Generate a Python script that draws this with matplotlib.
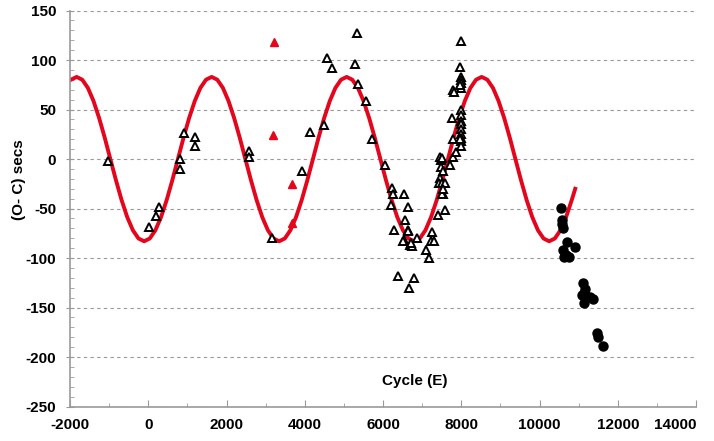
import matplotlib.pyplot as plt
from matplotlib.ticker import MultipleLocator

plt.rcParams['font.family'] = ['Liberation Sans', 'DejaVu Sans']
plt.rcParams['font.weight'] = 'bold'

# fitted curve
fit_cycle = [-1974, -1830, -1686, -1542, -1399, -1255, -1111, -968, -824, -680, -536, -392, -249,
             -105, 39, 182, 326, 470, 614, 758, 901, 1045, 1189, 1332, 1476,
             1620, 1764, 1908, 2051, 2195, 2339, 2482, 2626, 2770, 2914, 3058, 3201,
             3345, 3489, 3632, 3776, 3920, 4064, 4208, 4351, 4495, 4639, 4782, 4926,
             5070, 5214, 5358, 5501, 5645, 5789, 5932, 6076, 6220, 6364, 6508, 6651,
             6795, 6939, 7082, 7226, 7370, 7514, 7658, 7801, 7945, 8089, 8232, 8376,
             8520, 8664, 8808, 8951, 9095, 9239, 9382, 9526, 9670, 9814, 9958, 10101,
             10245, 10389, 10532, 10676, 10820, 10910]
fit_oc = [80.2, 83, 80.2, 71.9, 58.7, 41.5, 21.5, 0, -21.5, -41.5, -58.7, -71.9, -80.2,
          -83, -80.2, -71.9, -58.7, -41.5, -21.5, 0, 21.5, 41.5, 58.7, 71.9, 80.2,
          83, 80.2, 71.9, 58.7, 41.5, 21.5, 0, -21.5, -41.5, -58.7, -71.9, -80.2,
          -83, -80.2, -71.9, -58.7, -41.5, -21.5, 0, 21.5, 41.5, 58.7, 71.9, 80.2,
          83, 80.2, 71.9, 58.7, 41.5, 21.5, 0, -21.5, -41.5, -58.7, -71.9, -80.2,
          -83, -80.2, -71.9, -58.7, -41.5, -21.5, 0, 21.5, 41.5, 58.7, 71.9, 80.2,
          83, 80.2, 71.9, 58.7, 41.5, 21.5, 0, -21.5, -41.5, -58.7, -71.9, -80.2,
          -83, -80.2, -71.9, -58.7, -41.5, -30]

# open triangles
tri_cycle = [-1016, 16, 187, 281, 809, 809, 911, 1185, 1185, 2566, 2584,
             3154, 3929, 4126, 4493, 4570, 4707, 5346, 5278, 5372, 5559, 5720,
             6037, 6232, 6250, 6207, 6540, 6626, 6565, 6268, 6634, 6523, 6690, 6740, 6720,
             6856, 6378, 6795, 6651, 6641, 6505, 7094, 7171, 7240, 7230, 7290, 7400,
             7572, 7536, 7460, 7480, 7500, 7470, 7520, 7460, 7440, 7500, 7580, 7500, 7530,
             7708, 7776, 7862, 7793, 7760, 7990, 7995, 7985, 8000, 7990, 7995, 7985, 7990, 8000,
             7990, 7965, 7990, 8000, 7980, 7995, 7970, 7776, 7818, 7963]
tri_oc = [-2, -69, -57, -48, 0, -10, 26, 22, 13, 8, 2,
          -80, -12, 27, 34, 102, 92, 127, 96, 76, 59, 20,
          -6, -29, -35, -46, -35, -48, -62, -72, -72, -82, -87, -88, -85,
          -80, -118, -120, -130, -73, -83, -92, -100, -74, -83, -83, -56,
          -51, -35, 2, -1, 1, -8, -12, -19, -24, -24, -24, -35, -30,
          -6, 2, 7, 20, 41, 50, 45, 38, 35, 30, 25, 21, 18, 13,
          119, 93, 83, 80, 77, 72, 75, 70, 68, 20]

# filled red triangles
red_cycle = [3213, 3198, 3684, 3666]
red_oc = [118, 24, -25, -65]

# filled circles
dot_cycle = [10540, 10565, 10580, 10605, 10710, 10905, 10590, 10620, 10760, 10680,
             11120, 11160, 11095, 11140, 11370, 11145, 11290, 11477, 11500, 11630]
dot_oc = [-49, -62, -66, -70, -84, -89, -92, -99, -99, -97,
          -125, -131, -137, -135, -141, -145, -139, -176, -180, -189]

x_ticks = [-2000, 0, 2000, 4000, 6000, 8000, 10000, 12000, 14000]
y_ticks = [-250, -200, -150, -100, -50, 0, 50, 100, 150]

red = '#e3061c'

fig, ax = plt.subplots(figsize=(7.14, 4.41), dpi=100)
fig.subplots_adjust(left=0.098, right=0.975, bottom=0.078, top=0.976)

ax.plot(fit_cycle, fit_oc, color=red, lw=2.8, zorder=2)
ax.plot(tri_cycle, tri_oc, '^', ms=6.2, mfc='white', mec='black', mew=1.4, ls='none', zorder=3)
ax.plot(red_cycle, red_oc, '^', ms=6, color=red, ls='none', zorder=3)
ax.plot(dot_cycle, dot_oc, 'o', ms=6.5, color='black', ls='none', zorder=3)

ax.set_xlim(-2000, 14000)
ax.set_ylim(-250, 150)
ax.set_xticks(x_ticks, [str(t) for t in x_ticks])
ax.set_yticks(y_ticks, [str(t) for t in y_ticks])
ax.xaxis.set_minor_locator(MultipleLocator(1000))
ax.yaxis.set_minor_locator(MultipleLocator(10))

for s in ['top', 'right']:
    ax.spines[s].set_visible(False)
for s in ['left', 'bottom']:
    ax.spines[s].set_color('#9a9a9a')
    ax.spines[s].set_linewidth(1.2)

ax.tick_params(axis='both', which='both', color='#9a9a9a', labelsize=11)
ax.tick_params(axis='x', which='major', direction='in', length=5, pad=8)
ax.tick_params(axis='x', which='minor', direction='in', length=3)
ax.tick_params(axis='y', which='major', direction='inout', length=6, pad=7)
ax.tick_params(axis='y', which='minor', direction='in', length=3)

ax.yaxis.grid(True, which='major', linestyle=(0, (3, 3)), color='#999999', lw=0.8)
ax.set_axisbelow(True)

ax.set_ylabel('(O- C) secs', fontsize=11, fontweight='bold')
ax.yaxis.set_label_coords(-0.07, 0.572)
ax.text(6800, -224, 'Cycle (E)', fontsize=11, fontweight='bold', ha='center', va='center')

# keep the last x label inside the figure, as in the original
for lab in ax.get_xticklabels():
    if lab.get_text() == '14000':
        lab.set_horizontalalignment('right')

fig.savefig('out.png', dpi=100)
